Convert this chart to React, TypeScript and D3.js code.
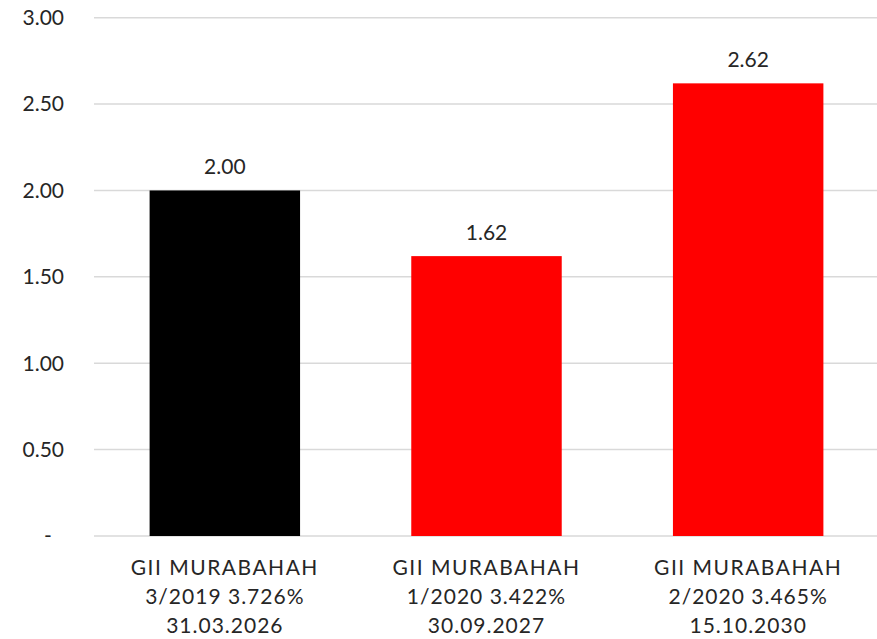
import React, { useEffect, useRef } from "react";
import * as d3 from "d3";

const categories = [
  ["GII MURABAHAH", "3/2019 3.726%", "31.03.2026"],
  ["GII MURABAHAH", "1/2020 3.422%", "30.09.2027"],
  ["GII MURABAHAH", "2/2020 3.465%", "15.10.2030"],
];
const values = [2.0, 1.62, 2.62];
const barColors = ["#000000", "#ff0000", "#ff0000"];
const yTicks = [0, 0.5, 1, 1.5, 2, 2.5, 3];

const W = 877;
const H = 639;
const FONT = "'Century Gothic', Lato, 'Open Sans', sans-serif";

export default function App() {
  const ref = useRef<SVGSVGElement>(null);

  useEffect(() => {
    document.body.style.margin = "0";
    const svg = d3.select(ref.current);
    svg.selectAll("*").remove();

    const left = 94;
    const right = 879;
    const top = 17.7;
    const bottom = 536;

    const x = d3
      .scaleBand<number>()
      .domain(categories.map((_, i) => i))
      .range([left, right])
      .paddingInner(0.425)
      .paddingOuter(0.2125);
    const y = d3.scaleLinear().domain([0, 3]).range([bottom, top]);

    // gridlines
    svg
      .append("g")
      .selectAll("line")
      .data(yTicks)
      .enter()
      .append("line")
      .attr("x1", left)
      .attr("x2", right)
      .attr("y1", (d) => y(d))
      .attr("y2", (d) => y(d))
      .attr("stroke", "#d9d9d9")
      .attr("stroke-width", 1.5);

    // y tick labels
    svg
      .append("g")
      .selectAll("text")
      .data(yTicks)
      .enter()
      .append("text")
      .attr("x", (d) => (d === 0 ? 48 : 64))
      .attr("y", (d) => y(d))
      .attr("dy", "0.35em")
      .attr("text-anchor", (d) => (d === 0 ? "middle" : "end"))
      .attr("font-family", FONT)
      .attr("font-size", 21)
      .attr("fill", "#262626")
      .text((d) => (d === 0 ? "-" : d.toFixed(2)));

    // bars
    svg
      .append("g")
      .selectAll("rect")
      .data(values)
      .enter()
      .append("rect")
      .attr("x", (_, i) => x(i)!)
      .attr("width", x.bandwidth())
      .attr("y", (d) => y(d))
      .attr("height", (d) => y(0) - y(d))
      .attr("fill", (_, i) => barColors[i]);

    // value labels
    svg
      .append("g")
      .selectAll("text")
      .data(values)
      .enter()
      .append("text")
      .attr("x", (_, i) => x(i)! + x.bandwidth() / 2)
      .attr("y", (d) => y(d) - 16)
      .attr("text-anchor", "middle")
      .attr("font-family", FONT)
      .attr("font-size", 21)
      .attr("fill", "#262626")
      .text((d) => d.toFixed(2));

    // category labels
    const cat = svg
      .append("g")
      .selectAll("text")
      .data(categories)
      .enter()
      .append("text")
      .attr("text-anchor", "middle")
      .attr("font-family", FONT)
      .attr("font-size", 21)
      .attr("fill", "#262626");
    cat
      .selectAll("tspan")
      .data((d, i) => d.map((line, j) => ({ line, i, j })))
      .enter()
      .append("tspan")
      .attr("x", (d) => x(d.i)! + x.bandwidth() / 2)
      .attr("y", (d) => 575 + d.j * 29)
      .attr("letter-spacing", (d) => (d.j === 0 ? 1.5 : 1))
      .text((d) => d.line);
  }, []);

  return <svg ref={ref} width={W} height={H} style={{ display: "block", background: "#fff" }} />;
}
